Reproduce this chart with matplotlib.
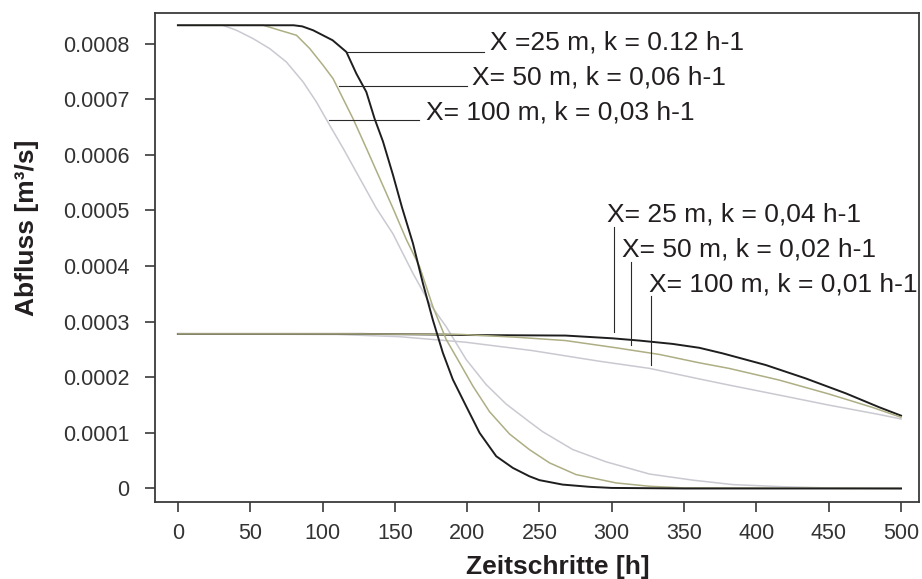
import matplotlib
matplotlib.use("Agg")
import matplotlib.pyplot as plt
from matplotlib.ticker import FuncFormatter, MultipleLocator

plt.rcParams["font.family"] = ["Liberation Sans", "DejaVu Sans"]

# steep curves (flood wave passing), values in 1e-4 m3/s
x_steep_25 = [0, 80, 86, 93.5, 107, 116.5, 123.4, 130.3, 136, 141.8, 148.7, 155, 162.5, 169.4,
              176.3, 183.2, 190.1, 199.3, 208.6, 220.1, 231.6, 243, 250, 266, 284.5, 300, 350, 500]
y_steep_25 = [8.33, 8.33, 8.31, 8.24, 8.06, 7.85, 7.46, 7.13, 6.65, 6.24, 5.64, 5.05, 4.41, 3.69,
              3.03, 2.44, 1.96, 1.48, 1.00, 0.58, 0.37, 0.22, 0.15, 0.07, 0.03, 0.01, 0, 0]

x_steep_50 = [0, 59, 70.4, 82, 91.2, 100.4, 107.3, 114.2, 121.1, 130.3, 139.5, 148.7, 157.9,
              167.1, 176.3, 185.5, 194.8, 204, 215.5, 229.3, 243, 257, 275.3, 303, 326, 350, 500]
y_steep_50 = [8.33, 8.33, 8.24, 8.15, 7.91, 7.61, 7.37, 7.01, 6.65, 6.12, 5.58, 5.04, 4.48,
              3.99, 3.27, 2.68, 2.26, 1.84, 1.38, 0.98, 0.70, 0.46, 0.25, 0.10, 0.04, 0.01, 0]

x_steep_100 = [0, 31, 40.5, 52, 63.5, 75, 86.6, 95.8, 105, 114.2, 125.7, 137.2, 148.7, 162.5,
               174, 185.5, 199.3, 213.1, 226.9, 243, 252.3, 273, 296, 326, 356, 383.6, 420, 450, 500]
y_steep_100 = [8.33, 8.33, 8.24, 8.09, 7.91, 7.67, 7.31, 6.95, 6.53, 6.12, 5.58, 5.04, 4.58, 3.87,
               3.33, 2.91, 2.32, 1.87, 1.52, 1.20, 1.02, 0.70, 0.48, 0.26, 0.15, 0.07, 0.03, 0.01, 0]

# flat curves
x_flat_25 = [0, 127, 176, 196, 268, 300.6, 319, 342, 360.5, 376.6, 406.5, 434, 461.9, 485, 500]
y_flat_25 = [2.78, 2.78, 2.77, 2.76, 2.75, 2.70, 2.66, 2.60, 2.53, 2.43, 2.22, 1.98, 1.71, 1.46, 1.31]

x_flat_50 = [0, 120, 196, 234, 268, 303, 333, 360.5, 381, 415.7, 450, 480, 500]
y_flat_50 = [2.78, 2.78, 2.77, 2.72, 2.66, 2.53, 2.41, 2.26, 2.16, 1.95, 1.70, 1.46, 1.28]

x_flat_100 = [0, 110, 153, 199, 245, 291, 326, 360.5, 381, 415.7, 450, 485, 500]
y_flat_100 = [2.78, 2.77, 2.73, 2.63, 2.48, 2.29, 2.16, 1.97, 1.86, 1.68, 1.50, 1.33, 1.25]

labels_top = ["X =25 m, k = 0.12 h-1", "X= 50 m, k = 0,06 h-1", "X= 100 m, k = 0,03 h-1"]
labels_bottom = ["X= 25 m, k = 0,04 h-1", "X= 50 m, k = 0,02 h-1", "X= 100 m, k = 0,01 h-1"]

BLACK = "#1e1e1e"
OLIVE = "#aeae84"
GREY = "#c9c9d1"
SCALE = 1e-4

fig = plt.figure(figsize=(9.22, 5.79), dpi=100)
ax = fig.add_axes([0.168, 0.133, 0.8287, 0.8445])


def sc(vals):
    return [v * SCALE for v in vals]


ax.plot(x_steep_100, sc(y_steep_100), color=GREY, lw=1.1)
ax.plot(x_flat_100, sc(y_flat_100), color=GREY, lw=1.1)
ax.plot(x_flat_25, sc(y_flat_25), color=BLACK, lw=1.4)
ax.plot(x_steep_50, sc(y_steep_50), color=OLIVE, lw=1.1)
ax.plot(x_flat_50, sc(y_flat_50), color=OLIVE, lw=1.1)
ax.plot(x_steep_25, sc(y_steep_25), color=BLACK, lw=1.4)

ax.set_xlim(-15.9, 512.4)
ax.set_ylim(-2.43e-5, 8.55e-4)
ax.xaxis.set_major_locator(MultipleLocator(50))
ax.yaxis.set_major_locator(MultipleLocator(1e-4))
ax.yaxis.set_major_formatter(FuncFormatter(lambda v, p: "0" if abs(v) < 1e-9 else f"{v:.4f}"))

for s in ax.spines.values():
    s.set_color("#3a3a3a")
    s.set_linewidth(1.3)
ax.tick_params(direction="out", length=7.2, width=1.2, color="#3a3a3a",
               labelsize=15.5, labelcolor="#333333")
ax.tick_params(axis="y", pad=11)
ax.tick_params(axis="x", pad=8)

ax.set_xlabel("Zeitschritte [h]", fontsize=19, fontweight="bold", color="#231f20")
ax.set_ylabel("Abfluss [m³/s]", fontsize=19, fontweight="bold", color="#231f20")
ax.xaxis.set_label_coords(0.5275, -0.108)
ax.yaxis.set_label_coords(-0.152, 0.56)

# annotation leaders, top group (horizontal)
lead_top = [(116.5, 212, 7.856e-4, 215.5, 7.887e-4),
            (111.4, 200, 7.24e-4, 203.4, 7.26e-4),
            (104.5, 167, 6.62e-4, 171.8, 6.64e-4)]
for (x0, x1, yl, xt, yt), txt in zip(lead_top, labels_top):
    ax.plot([x0, x1], [yl, yl], color="#2a2a2a", lw=0.8)
    ax.text(xt, yt, txt, fontsize=19, va="baseline", ha="left", color="#231f20")

# bottom group (vertical)
lead_bottom = [(301.8, 4.70e-4, 2.82e-4, 297, 4.80e-4),
               (313.3, 4.08e-4, 2.58e-4, 307.3, 4.17e-4),
               (327.3, 3.46e-4, 2.22e-4, 326, 3.54e-4)]
for (xl, y0, y1, xt, yt), txt in zip(lead_bottom, labels_bottom):
    ax.plot([xl, xl], [y0, y1], color="#2a2a2a", lw=0.8)
    ax.text(xt, yt, txt, fontsize=19, va="baseline", ha="left", color="#231f20")

fig.savefig("out.png", dpi=100)
